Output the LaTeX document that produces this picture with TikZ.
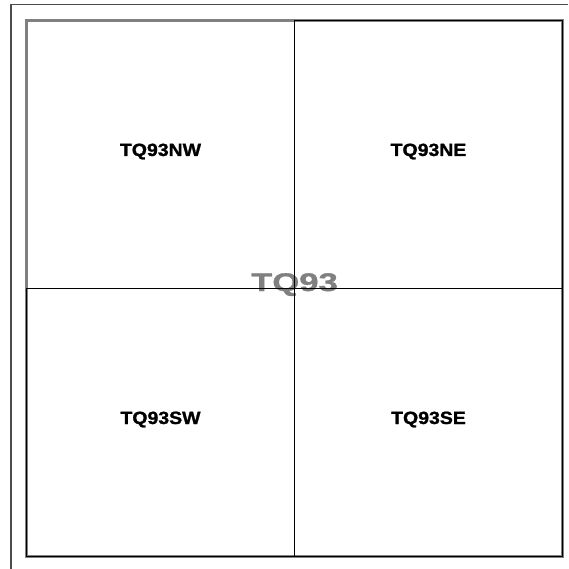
\documentclass[tikz,border=0pt]{standalone}
\usepackage{fontspec}
\setmainfont{Liberation Sans}
\newfontfamily\heavyfont[FakeBold=1.2]{Liberation Sans Bold}
\usetikzlibrary{positioning}

\begin{document}
\begin{tikzpicture}[x=1pt,y=-1pt]
    % styles
    \tikzstyle{grid}=[draw=gray,line width=3pt,minimum width=536pt,minimum height=536pt,inner sep=0pt,outer sep=0pt]
    \tikzstyle{quad}=[draw=black,line width=1.5pt,minimum width=268pt,minimum height=268pt,inner sep=0pt,outer sep=0pt]
    \tikzstyle{sheet}=[font=\heavyfont\fontsize{17.7}{20}\selectfont,anchor=base,inner sep=0pt]
    \tikzstyle{square}=[font=\heavyfont\fontsize{25.5}{28}\selectfont,text=gray,anchor=base,inner sep=0pt]

    \useasboundingbox (0,0) rectangle (568,569);

    % outer frame
    \draw[color=black!70,line width=1.5pt] (11,569) -- (11,4.5) -- (568,4.5);

    % 10 km square
    \node[grid] (tq93) at (294.5,288.5) {};
    \node[square] (tq93lab) at ([yshift=-2.5pt]tq93.center) {\scalebox{1.36}[1]{TQ93}};

    % quarter squares
    \node[quad,draw=none,anchor=north west] (nw) at (tq93.north west) {};
    \node[quad,anchor=north east] (ne) at (tq93.north east) {};
    \node[quad,anchor=south west] (sw) at (tq93.south west) {};
    \node[quad,anchor=south east] (se) at (tq93.south east) {};

    % labels
    \node[sheet] (nwlab) at ([yshift=-1.5pt]nw.center) {\scalebox{1.1}[1]{TQ93NW}};
    \node[sheet] (nelab) at ([yshift=-1.5pt]ne.center) {\scalebox{1.1}[1]{TQ93NE}};
    \node[sheet] (swlab) at ([yshift=-1.5pt]sw.center) {\scalebox{1.1}[1]{TQ93SW}};
    \node[sheet] (selab) at ([yshift=-1.5pt]se.center) {\scalebox{1.1}[1]{TQ93SE}};
\end{tikzpicture}
\end{document}
